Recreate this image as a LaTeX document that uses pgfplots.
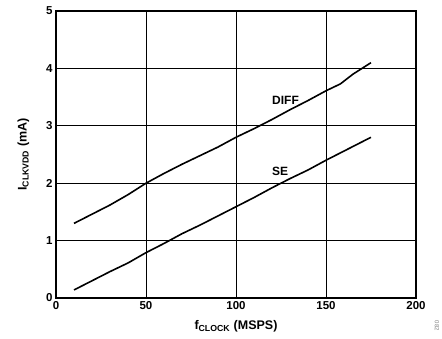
\documentclass[border=0pt]{standalone}
\usepackage{fontspec}
\setmainfont{Liberation Sans}
\usepackage{pgfplots}
\pgfplotsset{compat=1.18}
\begin{document}
\begin{tikzpicture}[x=1pt,y=1pt]
\useasboundingbox (-56,-41) rectangle (386,298);
\begin{axis}[
  at={(0,0)}, anchor=south west,
  scale only axis, width=360pt, height=287pt,
  xmin=0, xmax=200, ymin=0, ymax=5,
  xtick={0,50,100,150,200}, ytick={0,1,2,3,4,5},
  grid=major, major grid style={black, line width=0.6pt},
  major tick length=0pt,
  axis line style={black, line width=1.1pt},
  /pgf/number format/assume math mode=true,
  ticklabel style={font=\fontsize{11.5}{13}\selectfont\bfseries},
  xticklabel style={yshift=0pt},
  yticklabel style={xshift=0pt},
  xlabel={\fontsize{12.5}{14}\selectfont\bfseries f\textsubscript{CLOCK} (MSPS)},
  ylabel={\fontsize{12.5}{14}\selectfont\bfseries I\textsubscript{CLKVDD} (mA)},
  xlabel style={yshift=-4pt},
  ylabel style={yshift=10pt},
]
\addplot[black, line width=1.6pt] coordinates {
(10,1.30)(20,1.46)(30,1.62)(40,1.80)(50,2.00)(60,2.17)(70,2.33)(80,2.48)(90,2.63)(100,2.80)(110,2.95)(120,3.11)(130,3.28)(140,3.44)(150,3.61)(158,3.73)(165,3.90)(175,4.10)};
\addplot[black, line width=1.6pt] coordinates {
(10,0.14)(20,0.30)(30,0.46)(40,0.61)(50,0.79)(60,0.95)(70,1.12)(80,1.27)(90,1.43)(100,1.59)(110,1.75)(120,1.92)(130,2.08)(140,2.23)(150,2.40)(160,2.56)(175,2.80)};
\node[font=\fontsize{12}{14}\selectfont\bfseries] at (axis cs:127.5,3.45) {DIFF};
\node[font=\fontsize{12}{14}\selectfont\bfseries] at (axis cs:124.5,2.21) {SE};
\end{axis}
\node[font=\fontsize{6}{7}\selectfont, text=gray, rotate=-90] at (381,-28) {082};
\end{tikzpicture}
\end{document}
